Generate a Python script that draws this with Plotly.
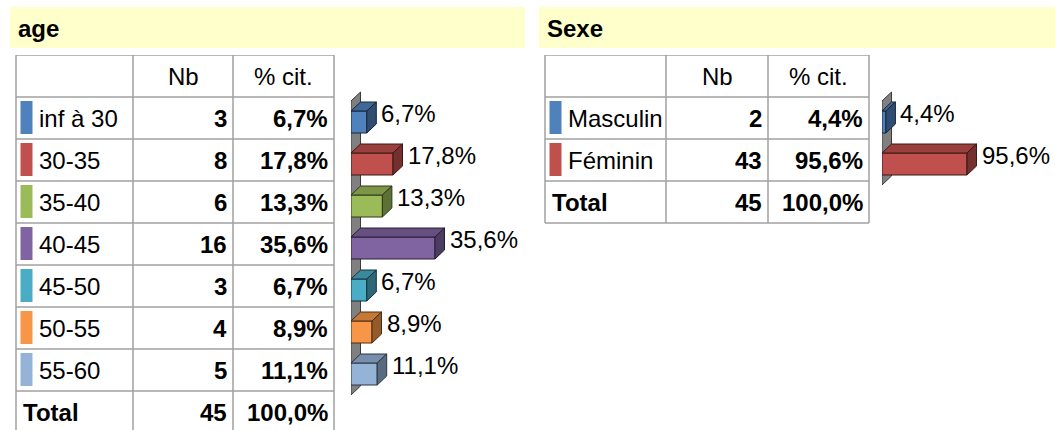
import plotly.graph_objects as go

# ---------------- data ----------------
age_labels = ["inf à 30", "30-35", "35-40", "40-45", "45-50", "50-55", "55-60"]
age_nb = [3, 8, 6, 16, 3, 4, 5]
age_pct = [6.7, 17.8, 13.3, 35.6, 6.7, 8.9, 11.1]
age_colors = ["#4F81BD", "#C0504D", "#9BBB59", "#8064A2", "#4BACC6", "#F79646", "#95B3D7"]
age_total_nb = 45
age_total_pct = 100.0

sexe_labels = ["Masculin", "Féminin"]
sexe_nb = [2, 43]
sexe_pct = [4.4, 95.6]
sexe_colors = ["#4F81BD", "#C0504D"]
sexe_total_nb = 45
sexe_total_pct = 100.0

col_headers = ["", "Nb", "% cit."]
total_label = "Total"
titles = ["age", "Sexe"]

# ---------------- layout constants ----------------
W, H = 1055, 430
ROW_H = 42
TABLE_TOP = 55
BAR_SHIFT = 4
BAR_H_PX = 22
DX_PX, DY_PX = 9.5, 9
LABEL_GAP = 3
FONT = "Liberation Sans, Arial, sans-serif"
FS = 24
GRID = "#A0A0A0"


def px_x(x):
    return x / W


def px_y(y):
    return 1 - y / H


def fmt_pct(v):
    return f"{v:.1f}".replace(".", ",") + "%"


def shade(hexc, f):
    h = hexc.lstrip("#")
    r, g, b = int(h[0:2], 16), int(h[2:4], 16), int(h[4:6], 16)
    return "#%02X%02X%02X" % (int(r * f), int(g * f), int(b * f))


fig = go.Figure()
shapes = []
annotations = []

panels = [
    dict(title=titles[0], labels=age_labels, nb=age_nb, pct=age_pct, colors=age_colors,
         tnb=age_total_nb, tpct=age_total_pct,
         band=(10, 525), cols=[16, 133, 233, 334], bar_x0=351, bar_x1=530, bar_len=84,
         xa="x2"),
    dict(title=titles[1], labels=sexe_labels, nb=sexe_nb, pct=sexe_pct, colors=sexe_colors,
         tnb=sexe_total_nb, tpct=sexe_total_pct,
         band=(539, 1055), cols=[545, 666, 768, 869], bar_x0=882, bar_x1=1055, bar_len=85,
         xa="x3"),
]

layout_axes = {}
for k, p in enumerate(panels):
    # header band
    shapes.append(dict(type="rect", xref="paper", yref="paper",
                       x0=px_x(p["band"][0]), x1=px_x(p["band"][1]),
                       y0=px_y(48), y1=px_y(7),
                       fillcolor="#FFFFCC", line=dict(width=0), layer="below"))
    annotations.append(dict(xref="paper", yref="paper", x=px_x(p["band"][0] + 6),
                            y=px_y(29), xanchor="left", yanchor="middle",
                            text="<b>%s</b>" % p["title"], showarrow=False,
                            font=dict(size=FS, color="black", family=FONT)))

    cols = p["cols"]
    n = len(p["labels"])
    last = n + 1  # index of total row
    # grid lines
    for r in range(-1, last + 1):
        shapes.append(dict(type="line", xref="x", yref="y", x0=cols[0], x1=cols[-1],
                           y0=r + 0.5, y1=r + 0.5, line=dict(color=GRID, width=1.5)))
    for c in cols:
        shapes.append(dict(type="line", xref="x", yref="y", x0=c, x1=c,
                           y0=-0.5, y1=last + 0.5, line=dict(color=GRID, width=1.5)))
    # header texts
    for j in (1, 2):
        annotations.append(dict(xref="x", yref="y", x=(cols[j] + cols[j + 1]) / 2, y=0,
                                text=col_headers[j], showarrow=False, xanchor="center",
                                yanchor="middle", font=dict(size=FS, color="black", family=FONT)))
    # data rows
    for i in range(n):
        r = i + 1
        shapes.append(dict(type="rect", xref="x", yref="y", x0=cols[0] + 4.5, x1=cols[0] + 16.5,
                           y0=r - 0.5 + 4 / ROW_H, y1=r + 0.5 - 5 / ROW_H,
                           fillcolor=p["colors"][i], line=dict(width=0)))
        annotations.append(dict(xref="x", yref="y", x=cols[0] + 21, y=r, text=p["labels"][i],
                                showarrow=False, xanchor="left", yanchor="middle",
                                font=dict(size=FS, color="black", family=FONT)))
        annotations.append(dict(xref="x", yref="y", x=cols[2] - 4, y=r,
                                text="<b>%d</b>" % p["nb"][i], showarrow=False,
                                xanchor="right", yanchor="middle",
                                font=dict(size=FS, color="black", family=FONT)))
        annotations.append(dict(xref="x", yref="y", x=cols[3] - 4, y=r,
                                text="<b>%s</b>" % fmt_pct(p["pct"][i]), showarrow=False,
                                xanchor="right", yanchor="middle",
                                font=dict(size=FS, color="black", family=FONT)))
    # total row
    annotations.append(dict(xref="x", yref="y", x=cols[0] + 5, y=last,
                            text="<b>%s</b>" % total_label, showarrow=False,
                            xanchor="left", yanchor="middle",
                            font=dict(size=FS, color="black", family=FONT)))
    annotations.append(dict(xref="x", yref="y", x=cols[2] - 4, y=last,
                            text="<b>%d</b>" % p["tnb"], showarrow=False,
                            xanchor="right", yanchor="middle",
                            font=dict(size=FS, color="black", family=FONT)))
    annotations.append(dict(xref="x", yref="y", x=cols[3] - 4, y=last,
                            text="<b>%s</b>" % fmt_pct(p["tpct"]), showarrow=False,
                            xanchor="right", yanchor="middle",
                            font=dict(size=FS, color="black", family=FONT)))

    # ---- 3D bars ----
    ppu = p["bar_len"] / max(p["pct"])
    xa = p["xa"]
    axname = "xaxis" + xa[1:]
    layout_axes[axname] = dict(domain=[px_x(p["bar_x0"]), min(1.0, px_x(p["bar_x1"]))],
                               range=[0, (p["bar_x1"] - p["bar_x0"]) / ppu],
                               visible=False, fixedrange=True, anchor="y2")
    dxu = DX_PX / ppu
    dyu = DY_PX / ROW_H
    hh = BAR_H_PX / ROW_H / 2
    ys = list(range(1, n + 1))
    # wall
    shapes.append(dict(type="path", xref=xa, yref="y2", layer="below",
                       path="M 0,%f L 0,%f L %f,%f L %f,%f Z" % (
                           n + 0.5, 0.5, dxu, 0.5 - dyu, dxu, n + 0.5 - dyu),
                       fillcolor="#808080", line=dict(color="#3A3A3A", width=1)))
    # front faces
    fig.add_trace(go.Bar(x=p["pct"], y=ys, orientation="h", xaxis=xa, yaxis="y2",
                         width=2 * hh,
                         marker=dict(color=p["colors"],
                                     line=dict(color=[shade(c, 0.3) for c in p["colors"]], width=1)),
                         showlegend=False, hoverinfo="skip"))
    for i, (v, c) in enumerate(zip(p["pct"], p["colors"])):
        yc = ys[i]
        top = yc - hh
        bot = yc + hh
        oc = shade(c, 0.3)
        fig.add_trace(go.Scatter(x=[0, v, v + dxu, dxu, 0],
                                 y=[top, top, top - dyu, top - dyu, top],
                                 xaxis=xa, yaxis="y2", mode="lines", fill="toself",
                                 fillcolor=shade(c, 0.8), line=dict(color=oc, width=1),
                                 showlegend=False, hoverinfo="skip"))
        fig.add_trace(go.Scatter(x=[v, v + dxu, v + dxu, v, v],
                                 y=[top, top - dyu, bot - dyu, bot, top],
                                 xaxis=xa, yaxis="y2", mode="lines", fill="toself",
                                 fillcolor=shade(c, 0.6), line=dict(color=oc, width=1),
                                 showlegend=False, hoverinfo="skip"))
        annotations.append(dict(xref=xa, yref="y2", x=v + dxu + LABEL_GAP / ppu, y=yc - 9 / ROW_H,
                                text=fmt_pct(v), showarrow=False, xanchor="left",
                                yanchor="middle", font=dict(size=FS, color="black", family=FONT)))

fig.update_layout(
    width=W, height=H,
    margin=dict(l=0, r=0, t=0, b=0, pad=0),
    paper_bgcolor="white", plot_bgcolor="rgba(0,0,0,0)",
    showlegend=False,
    barmode="overlay",
    hovermode=False,
    font=dict(family=FONT, size=FS, color="black"),
    xaxis=dict(domain=[0, 1], range=[0, W], visible=False, fixedrange=True, anchor="y"),
    yaxis=dict(domain=[0, px_y(TABLE_TOP)],
               range=[-0.5 + (H - TABLE_TOP) / ROW_H, -0.5], visible=False, fixedrange=True,
               anchor="x"),
    yaxis2=dict(domain=[0, px_y(TABLE_TOP + BAR_SHIFT)],
                range=[-0.5 + (H - TABLE_TOP - BAR_SHIFT) / ROW_H, -0.5],
                visible=False, fixedrange=True, anchor="x2"),
    shapes=shapes,
    annotations=annotations,
    **layout_axes,
)

fig.write_html(
    "out.html",
    config={"displayModeBar": False, "staticPlot": True},
    post_script="document.body.style.margin='0';"
                "document.body.style.overflow='hidden';",
)
